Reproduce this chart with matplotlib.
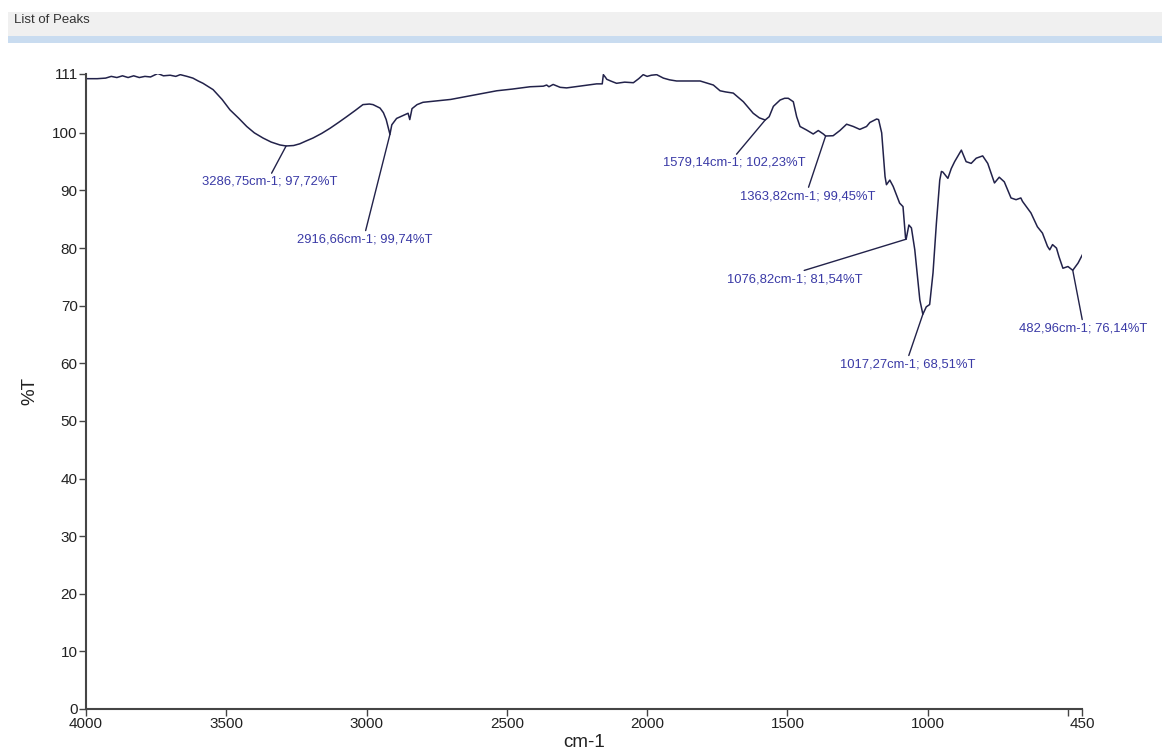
import matplotlib
matplotlib.use("Agg")
import matplotlib.pyplot as plt
from matplotlib.patches import Rectangle

plt.rcParams['font.family'] = ['Liberation Sans', 'DejaVu Sans']

# FTIR spectrum (wavenumber cm-1, %T)
wavenumber = [
    4000, 3960, 3930, 3910, 3890, 3870, 3850, 3830, 3810, 3790, 3770, 3744,
    3724, 3700, 3680, 3664, 3640, 3619, 3600, 3583, 3547, 3515, 3487, 3455,
    3427, 3400, 3369, 3340, 3309, 3286.75, 3260, 3238, 3215, 3191, 3160, 3130,
    3100, 3071, 3040, 3013, 2990, 2977, 2960, 2952, 2940, 2930, 2916.66, 2910,
    2893, 2870, 2852, 2846, 2838, 2820, 2799, 2760, 2700, 2656, 2600, 2536,
    2480, 2417, 2370, 2358, 2350, 2335, 2310, 2287, 2240, 2180, 2160, 2156,
    2148, 2144, 2130, 2109, 2080, 2049, 2030, 2014, 2000, 1985, 1966, 1942,
    1920, 1895, 1850, 1811, 1764, 1740, 1720, 1693, 1657, 1622, 1600, 1579.14,
    1565, 1550, 1526, 1510, 1497, 1479, 1467, 1455, 1432, 1408, 1390, 1372,
    1363.82, 1337, 1313, 1289, 1265, 1242, 1218, 1206, 1182, 1175, 1164, 1152,
    1147, 1135, 1123, 1100, 1088, 1079, 1076.82, 1067, 1058, 1046, 1028,
    1017.27, 1005, 993, 981, 969, 957, 951, 946, 928, 916, 904, 880, 863, 845,
    827, 804, 786, 762, 745, 727, 703, 685, 668, 662, 632, 609, 591, 573, 565,
    555, 541, 532, 518, 500, 482.96, 464, 449,
]
transmittance = [
    109.4, 109.4, 109.5, 109.8, 109.6, 109.9, 109.6, 109.9, 109.6, 109.8, 109.7, 110.3,
    109.9, 110.0, 109.8, 110.1, 109.8, 109.5, 109.0, 108.6, 107.5, 105.8, 104.0, 102.5,
    101.1, 100.0, 99.1, 98.4, 97.9, 97.72, 97.8, 98.1, 98.6, 99.1, 99.9, 100.8,
    101.8, 102.8, 103.9, 104.9, 105.0, 104.9, 104.5, 104.3, 103.5, 102.3, 99.74, 101.4,
    102.5, 103.0, 103.4, 102.3, 104.2, 104.9, 105.3, 105.5, 105.8, 106.2, 106.7, 107.3,
    107.6, 108.0, 108.1, 108.3, 108.0, 108.4, 107.9, 107.8, 108.1, 108.5, 108.5, 110.1,
    109.6, 109.3, 109.0, 108.6, 108.8, 108.7, 109.4, 110.1, 109.8, 110.0, 110.1, 109.5,
    109.2, 109.0, 109.0, 109.0, 108.3, 107.3, 107.1, 106.9, 105.4, 103.4, 102.6, 102.23,
    102.8, 104.6, 105.7, 106.0, 106.0, 105.4, 102.8, 101.1, 100.5, 99.8, 100.4, 99.8,
    99.45, 99.5, 100.4, 101.5, 101.1, 100.6, 101.1, 101.8, 102.4, 102.3, 100.0, 92.4,
    91.0, 91.8, 90.7, 87.8, 87.2, 81.8, 81.54, 84.0, 83.5, 79.7, 71.0,
    68.51, 69.8, 70.2, 75.7, 84.3, 91.8, 93.3, 93.2, 92.1, 93.8, 95.0, 97.0, 95.0, 94.7,
    95.6, 96.0, 94.7, 91.3, 92.3, 91.5, 88.7, 88.4, 88.7, 88.1, 86.1, 83.7, 82.6, 80.3, 79.7,
    80.6, 80.0, 78.5, 76.5, 76.8, 76.14, 77.4, 78.8,
]

# picked peaks
peak_wn = [3286.75, 2916.66, 1579.14, 1363.82, 1076.82, 1017.27, 482.96]
peak_t = [97.72, 99.74, 102.23, 99.45, 81.54, 68.51, 76.14]
# label offsets from the peak, in pixels
label_dx = [-16, -25, -31, -18, -111, -15, 10]
label_dy = [-36, -105, -43, -60, -40, -50, -58]

x_ticks = [4000, 3500, 3000, 2500, 2000, 1500, 1000, 500, 450]
x_tick_labels = ['4000', '3500', '3000', '2500', '2000', '1500', '1000', '', '450']
y_top = 110.3
y_ticks = [0, 10, 20, 30, 40, 50, 60, 70, 80, 90, 100, y_top]
y_tick_labels = ['0', '10', '20', '30', '40', '50', '60', '70', '80', '90', '100', '111']

line_color = '#22224a'
label_color = '#3a3aa6'
axis_color = '#454545'

fig = plt.figure(figsize=(11.62, 7.51), dpi=100)
ax = fig.add_axes([86 / 1162, 1 - 709 / 751, (1082 - 86) / 1162, (709 - 73.5) / 751])

# window header strip
fig.add_artist(Rectangle((8 / 1162, 1 - 36 / 751), 1, 24 / 751, transform=fig.transFigure,
                         facecolor='#f0f0f0', edgecolor='none'))
fig.add_artist(Rectangle((8 / 1162, 1 - 43 / 751), 1, 7 / 751, transform=fig.transFigure,
                         facecolor='#c9dcf0', edgecolor='none'))
fig.text(14 / 1162, 1 - 20 / 751, 'List of Peaks', fontsize=9.5, color='#333333', va='center')

ax.plot(wavenumber, transmittance, color=line_color, linewidth=1.1)

for wn, t, dx, dy in zip(peak_wn, peak_t, label_dx, label_dy):
    txt = f"{wn:.2f}cm-1; {t:.2f}%T".replace('.', ',')
    ax.annotate(txt, xy=(wn, t), xytext=(dx, dy), textcoords='offset pixels',
                ha='center', va='center', fontsize=9.4, color=label_color,
                arrowprops=dict(arrowstyle='-', color=line_color, lw=1.0,
                                shrinkA=0, shrinkB=0, relpos=(0.5, 1.0)))

ax.set_xlim(4000, 450)
ax.set_ylim(0, y_top)
ax.set_xticks(x_ticks)
ax.set_xticklabels(x_tick_labels)
ax.set_yticks(y_ticks)
ax.set_yticklabels(y_tick_labels)
ax.tick_params(direction='out', length=5, width=1, color=axis_color,
               labelsize=11, labelcolor='#222222', pad=1)

for side in ['top', 'right']:
    ax.spines[side].set_visible(False)
for side in ['left', 'bottom']:
    ax.spines[side].set_color(axis_color)
    ax.spines[side].set_linewidth(1.5)

ax.set_xlabel('cm-1', fontsize=13.5, color='#222222', labelpad=2)
ax.set_ylabel('%T', fontsize=13.5, color='#222222', labelpad=10)

fig.savefig('out.png', dpi=100)
